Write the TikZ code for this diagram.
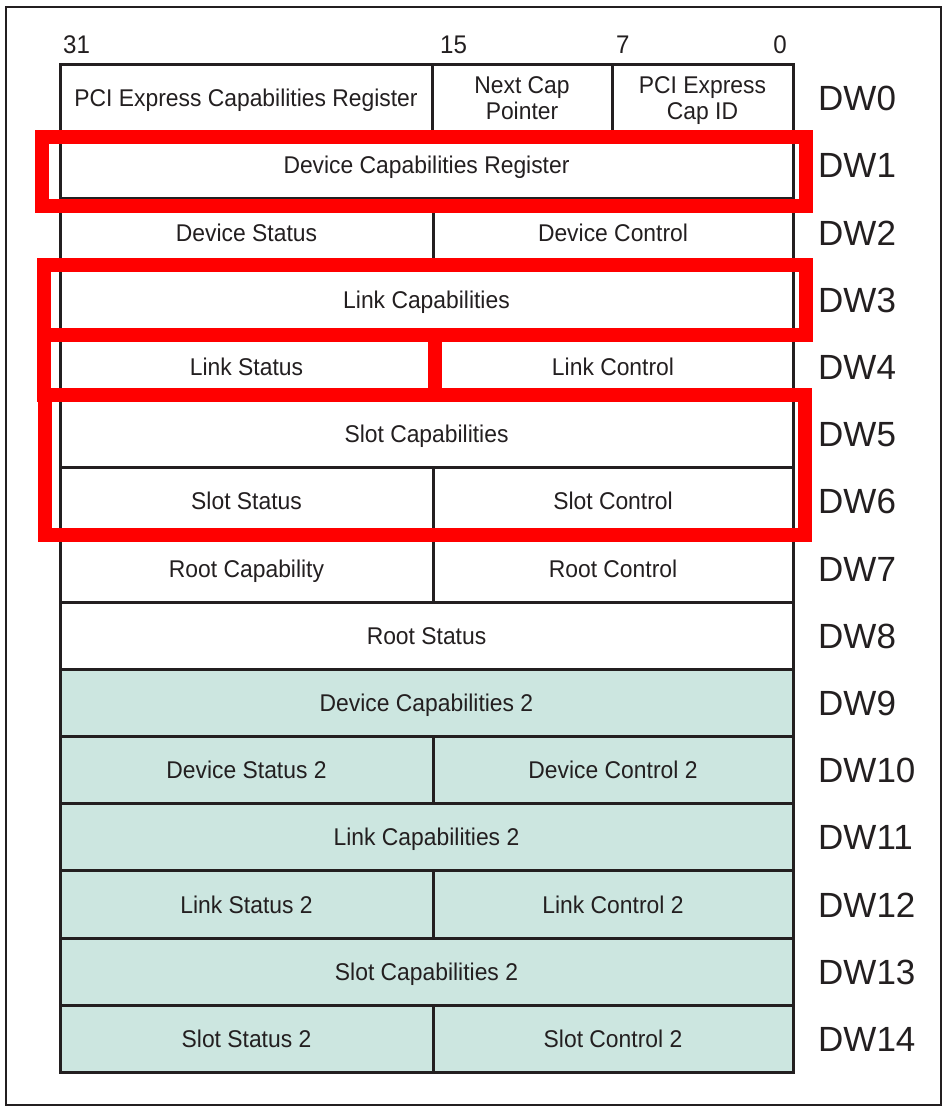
\documentclass[tikz,border=0pt]{standalone}
\usepackage{fontspec}
\setmainfont{Liberation Sans}
\newfontfamily\narrowsans[FakeStretch=0.945]{Liberation Sans}
\definecolor{ink}{RGB}{35,31,32}
\definecolor{extfill}{RGB}{204,230,224}
\definecolor{hired}{RGB}{255,0,0}
\begin{document}
\begin{tikzpicture}[x=1pt,y=-1pt,
  cell/.style={draw=ink,line width=3pt,inner sep=0pt,minimum height=67.2pt,minimum width=#1,
    text=ink,font=\narrowsans\fontsize{24.2}{26}\selectfont,align=center,
    text height=17.3pt,text depth=0pt},
  twoline/.style={text height=43.3pt,text depth=0pt},
  ext/.style={fill=extfill},
  dw/.style={anchor=west,inner sep=0pt,text=ink,font=\fontsize{35}{36}\selectfont,
    text height=25pt,text depth=0pt},
  bit/.style={inner sep=0pt,text=ink,font=\narrowsans\fontsize{25.5}{27}\selectfont},
  hilite/.style={draw=hired,line width=14pt}]
\useasboundingbox (0,0) rectangle (946,1111);
\fill[white] (0,0) rectangle (946,1111);
\node[draw=ink,line width=2pt,minimum width=935pt,minimum height=1098pt,inner sep=0pt] (frame) at (473.5,556) {};

% bit numbers
\node[bit,anchor=base west] (b31) at (63,53) {31};
\node[bit,anchor=base west] (b15) at (440,53) {15};
\node[bit,anchor=base west] (b7) at (616,53) {7};
\node[bit,anchor=base east] (b0) at (787,53) {0};

% DW0
\node[cell=372pt] (r0a) at (246,98.1) {PCI Express Capabilities Register};
\node[cell=180pt,twoline] (r0b) at (522,98.1) {Next Cap\\Pointer};
\node[cell=181pt,twoline] (r0c) at (702.5,98.1) {PCI Express\\Cap ID};
% DW1
\node[cell=733pt] (r1) at (426.5,165.3) {Device Capabilities Register};
% DW2
\node[cell=373pt] (r2a) at (246.5,232.5) {Device Status};
\node[cell=360pt] (r2b) at (613,232.5) {Device Control};
% DW3
\node[cell=733pt] (r3) at (426.5,299.7) {Link Capabilities};
% DW4
\node[cell=373pt] (r4a) at (246.5,366.9) {Link Status};
\node[cell=360pt] (r4b) at (613,366.9) {Link Control};
% DW5
\node[cell=733pt] (r5) at (426.5,434.1) {Slot Capabilities};
% DW6
\node[cell=373pt] (r6a) at (246.5,501.3) {Slot Status};
\node[cell=360pt] (r6b) at (613,501.3) {Slot Control};
% DW7
\node[cell=373pt] (r7a) at (246.5,568.5) {Root Capability};
\node[cell=360pt] (r7b) at (613,568.5) {Root Control};
% DW8
\node[cell=733pt] (r8) at (426.5,635.7) {Root Status};
% DW9
\node[cell=733pt,ext] (r9) at (426.5,702.9) {Device Capabilities 2};
% DW10
\node[cell=373pt,ext] (r10a) at (246.5,770.1) {Device Status 2};
\node[cell=360pt,ext] (r10b) at (613,770.1) {Device Control 2};
% DW11
\node[cell=733pt,ext] (r11) at (426.5,837.3) {Link Capabilities 2};
% DW12
\node[cell=373pt,ext] (r12a) at (246.5,904.5) {Link Status 2};
\node[cell=360pt,ext] (r12b) at (613,904.5) {Link Control 2};
% DW13
\node[cell=733pt,ext] (r13) at (426.5,971.7) {Slot Capabilities 2};
% DW14
\node[cell=373pt,ext] (r14a) at (246.5,1038.9) {Slot Status 2};
\node[cell=360pt,ext] (r14b) at (613,1038.9) {Slot Control 2};

% DW labels
\node[dw] (dw0) at (818,98.1) {DW0};
\node[dw] (dw1) at (818,165.3) {DW1};
\node[dw] (dw2) at (818,232.5) {DW2};
\node[dw] (dw3) at (818,299.7) {DW3};
\node[dw] (dw4) at (818,366.9) {DW4};
\node[dw] (dw5) at (818,434.1) {DW5};
\node[dw] (dw6) at (818,501.3) {DW6};
\node[dw] (dw7) at (818,568.5) {DW7};
\node[dw] (dw8) at (818,635.7) {DW8};
\node[dw] (dw9) at (818,702.9) {DW9};
\node[dw] (dw10) at (818,770.1) {DW10};
\node[dw] (dw11) at (818,837.3) {DW11};
\node[dw] (dw12) at (818,904.5) {DW12};
\node[dw] (dw13) at (818,971.7) {DW13};
\node[dw] (dw14) at (818,1038.9) {DW14};

% red highlight boxes
\draw[hilite] (42,137) rectangle (806,206);
\draw[hilite] (44,265) rectangle (806,335);
\draw[hilite] (44,335) rectangle (435,395);
\draw[hilite] (44.5,395) rectangle (805,535);
\end{tikzpicture}
\end{document}
